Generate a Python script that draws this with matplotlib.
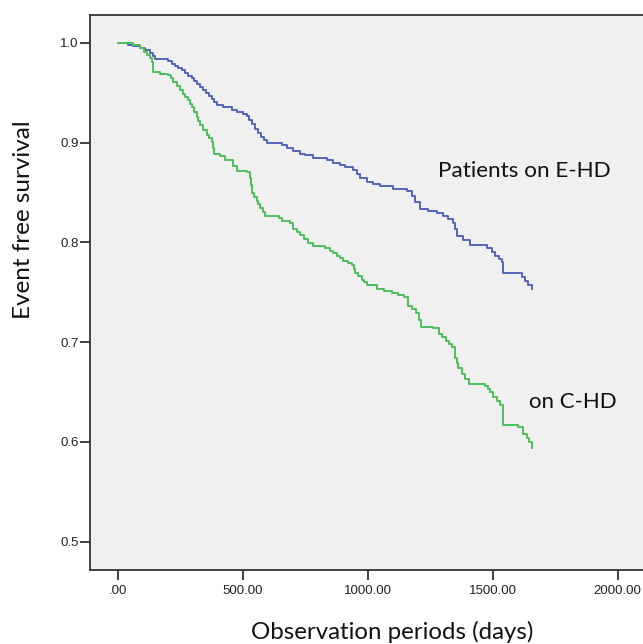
import matplotlib
matplotlib.use("Agg")
import matplotlib.pyplot as plt

# ---- data ----
ehd_days = [0, 22, 40, 62, 89, 110, 129, 140, 149, 202, 215, 230, 242, 256, 269,
            282, 295, 305, 316, 328, 340, 352, 365, 376, 386, 396, 420, 456, 475,
            500, 516, 525, 535, 549, 560, 572, 585, 596, 656, 675, 700, 729, 750,
            782, 836, 860, 889, 910, 942, 955, 970, 996, 1020, 1049, 1100, 1156,
            1175, 1190, 1209, 1240, 1276, 1300, 1320, 1342, 1350, 1356, 1380, 1409,
            1476, 1495, 1509, 1525, 1536, 1542, 1615, 1630, 1642, 1656]
ehd_surv = [1.0, 0.9994, 0.998, 0.997, 0.995, 0.993, 0.990, 0.987, 0.984, 0.982,
            0.979, 0.977, 0.975, 0.973, 0.970, 0.967, 0.965, 0.962, 0.959, 0.956,
            0.953, 0.950, 0.947, 0.944, 0.941, 0.938, 0.936, 0.933, 0.931, 0.929,
            0.927, 0.923, 0.919, 0.914, 0.910, 0.906, 0.903, 0.900, 0.898, 0.895,
            0.892, 0.889, 0.887, 0.884, 0.882, 0.879, 0.877, 0.875, 0.872, 0.868,
            0.864, 0.860, 0.858, 0.856, 0.853, 0.851, 0.846, 0.840, 0.833, 0.831,
            0.829, 0.826, 0.823, 0.819, 0.813, 0.806, 0.802, 0.797, 0.794, 0.790,
            0.786, 0.783, 0.780, 0.769, 0.765, 0.761, 0.757, 0.753]

chd_days = [0, 29, 62, 89, 105, 116, 128, 136, 142, 169, 202, 212, 222, 236, 249,
            260, 269, 282, 290, 296, 306, 316, 322, 329, 342, 356, 366, 376, 381,
            385, 409, 429, 462, 476, 516, 529, 533, 536, 546, 556, 562, 569, 579,
            589, 645, 657, 689, 702, 716, 729, 745, 762, 782, 829, 849, 862, 876,
            890, 902, 920, 937, 943, 949, 962, 976, 986, 996, 1036, 1065, 1097,
            1120, 1145, 1159, 1175, 1193, 1203, 1213, 1261, 1285, 1298, 1311, 1325,
            1337, 1349, 1355, 1361, 1377, 1390, 1405, 1469, 1480, 1489, 1502, 1515,
            1529, 1539, 1602, 1622, 1635, 1645, 1656]
chd_surv = [1.0, 0.9994, 0.998, 0.995, 0.991, 0.988, 0.985, 0.981, 0.971, 0.969,
            0.968, 0.965, 0.961, 0.957, 0.953, 0.949, 0.946, 0.943, 0.939, 0.936,
            0.931, 0.926, 0.922, 0.918, 0.913, 0.908, 0.905, 0.901, 0.895, 0.889,
            0.886, 0.882, 0.876, 0.871, 0.870, 0.864, 0.857, 0.849, 0.845, 0.841,
            0.838, 0.834, 0.830, 0.826, 0.824, 0.821, 0.819, 0.813, 0.810, 0.807,
            0.803, 0.799, 0.796, 0.794, 0.791, 0.789, 0.786, 0.784, 0.781, 0.779,
            0.777, 0.773, 0.769, 0.766, 0.762, 0.760, 0.757, 0.753, 0.751, 0.749,
            0.747, 0.745, 0.736, 0.733, 0.729, 0.722, 0.715, 0.714, 0.708, 0.705,
            0.701, 0.698, 0.695, 0.684, 0.679, 0.674, 0.668, 0.663, 0.658, 0.656,
            0.653, 0.650, 0.645, 0.641, 0.637, 0.617, 0.615, 0.608, 0.604, 0.600,
            0.594]

x_ticks = [0, 500, 1000, 1500, 2000]
x_tick_labels = [".00", "500.00", "1000.00", "1500.00", "2000.00"]
y_ticks = [0.5, 0.6, 0.7, 0.8, 0.9, 1.0]
y_tick_labels = ["0.5", "0.6", "0.7", "0.8", "0.9", "1.0"]

label_ehd = "Patients on E-HD"
label_chd = "on C-HD"
xlabel = "Observation periods (days)"
ylabel = "Event free survival"

# ---- figure ----
fig = plt.figure(figsize=(6.43, 6.44), dpi=100)
ax = fig.add_axes([90 / 643, 1 - 570 / 644, (646 - 90) / 643, (570 - 15) / 644])
ax.set_facecolor("#F0F0F0")

blue = "#5364B8"
green = "#4CBF5A"
ax.plot(ehd_days, ehd_surv, drawstyle="steps-post", color=blue, lw=1.4)
ax.plot(chd_days, chd_surv, drawstyle="steps-post", color=green, lw=1.4)

ax.set_xlim(-111, 2113)
ax.set_ylim(0.4716, 1.0278)

ax.set_xticks(x_ticks)
ax.set_xticklabels(x_tick_labels, fontfamily="Liberation Sans", fontsize=9.5, color="#222222")
ax.set_yticks(y_ticks)
ax.set_yticklabels(y_tick_labels, fontfamily="Liberation Sans", fontsize=9.5, color="#222222")
ax.tick_params(axis="both", direction="out", length=7, width=1.3, color="#333333")
ax.tick_params(axis="y", pad=1)
ax.tick_params(axis="x", pad=4)

for s in ax.spines.values():
    s.set_color("#333333")
    s.set_linewidth(1.3)

ax.set_xlabel(xlabel, fontfamily="Lato", fontsize=17.3, color="#111111", va="center")
ax.xaxis.set_label_coords((392 - 90) / 556, -(632 - 570) / 555)
ax.set_ylabel(ylabel, fontfamily="Lato", fontsize=17.5, color="#111111", va="center")
ax.yaxis.set_label_coords(-(90 - 24) / 556, (570 - 220) / 555)

ax.text(1280, 0.871, label_ehd, fontfamily="Lato", fontsize=16.2, color="#111111",
        ha="left", va="center")
ax.text(1645, 0.640, label_chd, fontfamily="Lato", fontsize=16, color="#111111",
        ha="left", va="center")

fig.savefig("out.png", dpi=100, facecolor="white")
